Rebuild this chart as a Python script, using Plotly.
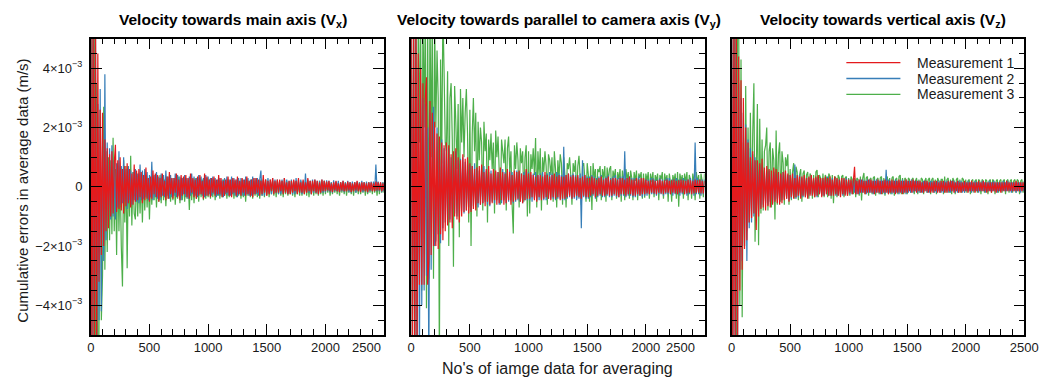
import numpy as np
import plotly.graph_objects as go

# Number of images used for each running average
sample_no = list(range(0, 2501, 10))

# Cumulative errors of the averaged velocity, in units of 1e-5 m/s
# (one row per 100 images, last value at 2500)

# --- V_x (main axis) ---
vx_m1 = [
    600, -600, 600, -600, 600, -600, 450, -320, 260, -230,
    250, -200, 160, -150, 130, -140, 110, -100, 120, -90,
    80, 142, -85, 90, -75, 100, -80, 60, -90, 70,
    -65, 80, -55, 60, -70, 45, -60, 75, -50, 55,
    -45, 60, -35, 50, -55, 40, -45, 65, -40, 30,
    -50, 35, -40, 55, -25, 45, -35, 40, -50, 30,
    -35, 45, -30, 20, -45, 35, -40, 50, -25, 30,
    -40, 30, -20, 45, -35, 25, -45, 40, -30, 35,
    -25, 40, -35, 30, -40, 45, -20, 30, -35, 25,
    -40, 35, -30, 40, -25, 20, -40, 45, -30, 35,
    -30, 25, -35, 30, -20, 35, -30, 25, -25, 40,
    -25, 30, -35, 20, -30, 25, -20, 35, -30, 25,
    -35, 30, -20, 25, -30, 35, -25, 20, -30, 30,
    -20, 25, -30, 35, -25, 20, -30, 25, -35, 30,
    -25, 30, -20, 25, -30, 20, -25, 40, -20, 25,
    -30, 20, -25, 25, -15, 30, -25, 20, -20, 25,
    -20, 25, -15, 20, -25, 30, -20, 15, -25, 20,
    -25, 20, -20, 25, -15, 20, -25, 30, -20, 15,
    -20, 25, -25, 15, -20, 30, -15, 20, -25, 20,
    -15, 25, -20, 20, -25, 15, -20, 25, -15, 20,
    -15, 18, -12, 20, -15, 12, -18, 15, -12, 20,
    -15, 12, -18, 15, -12, 20, -15, 12, -15, 18,
    -12, 15, -18, 12, -15, 15, -12, 20, -15, 12,
    -18, 15, -12, 15, -15, 12, -18, 15, -12, 15,
    -15, 12, -15, 18, -12, 15, -12, 15, -15, 12,
    -12]
vx_m2 = [
    600, -600, 600, -600, 550, -600, 280, -450, 330, -420,
    200, -250, 380, -180, 150, -120, 130, -110, 140, -100,
    90, -110, 80, -70, 120, -60, 70, -55, 100, -50,
    60, -75, 70, -45, 55, -60, 50, -45, 60, -50,
    45, -55, 75, -45, 55, -40, 60, -35, 50, -45,
    40, -35, 85, -45, 40, -35, 50, -40, 35, -45,
    45, -30, 40, -35, 55, -30, 35, -40, 40, -35,
    30, -30, 45, -35, 40, -30, 35, -45, 30, -25,
    40, -35, 30, -40, 35, -30, 45, -25, 35, -30,
    30, -35, 40, -25, 35, -30, 30, -35, 40, -30,
    35, -25, 30, -30, 35, -25, 30, -35, 25, -30,
    30, -30, 25, -35, 30, -25, 35, -30, 25, -30,
    35, -25, 30, -30, 25, -35, 30, -25, 30, -30,
    25, -30, 35, -25, 30, -30, 25, -30, 35, -25,
    30, -25, 30, -30, 25, 55, -30, 25, -30, 25,
    -25, 30, -20, 25, -25, 30, -20, 25, -20, 25,
    -25, 20, -25, 25, -20, 30, -20, 25, -25, 20,
    -20, 25, -25, 20, -25, 30, -20, 25, -20, 25,
    -25, 20, -20, 45, -20, 25, -20, 20, -25, 25,
    -20, 25, -20, 20, -25, 20, -20, 25, -20, 20,
    -18, 22, -15, 20, -18, 15, -20, 22, -15, 18,
    -15, 20, -18, 15, -15, 20, -18, 15, -15, 20,
    -18, 15, -20, 18, -15, 15, -20, 18, -15, 15,
    -15, 20, -18, 15, -15, 18, -20, 15, -15, 18,
    -15, 18, -15, 75, -15, 18, -15, 15, -18, 15,
    -15]
vx_m3 = [
    -600, 600, -600, 500, -600, 350, -600, -500, 260, -450,
    -300, 270, -280, 120, -220, 100, -180, 90, -160, 166,
    -150, 60, -230, 80, -150, 50, -200, -336, 90, -120,
    70, -275, 60, -100, 105, -130, 50, -90, -110, 45,
    -100, 45, -90, 40, -120, 35, -80, 40, -70, 30,
    -110, 30, -60, 35, -45, 25, -70, 30, -50, 40,
    -55, 30, -45, 25, -65, 35, -40, 30, -50, 20,
    -45, 30, -60, 25, -40, 35, -55, 30, -45, 25,
    -50, 30, -40, 25, -78, 30, -45, 25, -55, 30,
    -40, 25, -50, 30, -35, 25, -45, 20, -40, 30,
    -35, 25, -40, 20, -35, 25, -45, 20, -30, 25,
    -40, 20, -35, 25, -30, 20, -40, 25, -35, 20,
    -30, 25, -40, 20, -35, 25, -30, 20, -40, 25,
    -35, 20, -50, 25, -30, 20, -35, 25, -40, 20,
    -30, 25, -35, 20, -40, 25, -30, 20, -35, 25,
    -30, 20, -35, 15, -25, 20, -30, 15, -35, 20,
    -25, 15, -30, 20, -35, 15, -25, 20, -30, 15,
    -25, 20, -30, 15, -35, 20, -25, 15, -30, 20,
    -30, 15, -25, 20, -30, 15, -35, 20, -25, 15,
    -30, 20, -25, 15, -30, 20, -25, 15, -30, 20,
    -25, 15, -20, 12, -30, 15, -25, 12, -20, 15,
    -25, 12, -30, 15, -20, 12, -25, 15, -30, 12,
    -20, 15, -25, 12, -30, 15, -20, 12, -25, 15,
    -25, 12, -20, 15, -30, 12, -25, 15, -20, 12,
    -25, 15, -20, 12, -30, 15, -25, 12, -20, 15,
    -20]

# --- V_y (parallel to camera axis) ---
vy_m1 = [
    600, -600, 600, -600, 600, -600, 450, -330, 400, -330,
    350, -330, 300, 370, -330, -250, 290, -230, 250, -200,
    220, -200, 180, -210, 170, -160, 150, -180, 140, -150,
    150, -130, 140, -120, 110, -140, 120, -100, 130, -110,
    100, -120, 90, -100, 110, -85, 95, -80, 100, -90,
    80, -85, 70, -75, 60, -80, 65, -55, 70, -60,
    75, -55, 50, -65, 60, -50, 70, -60, 45, -55,
    60, -45, 55, -60, 50, -55, 65, -45, 50, -60,
    45, -55, 60, -45, 50, -60, 40, -50, 55, -45,
    50, -40, 55, -50, 45, -55, 40, -45, 60, -40,
    45, -40, 50, -35, 40, -45, 35, -50, 40, -35,
    40, -45, 35, -40, 50, -35, 40, -40, 35, -45,
    40, -35, 45, -40, 35, -35, 40, -45, 35, -40,
    35, -40, 40, -35, 45, -30, 35, -40, 40, -35,
    35, -30, 40, -35, 30, -40, 35, -30, 40, -35,
    30, -35, 30, -30, 35, -25, 30, -35, 25, -30,
    30, -25, 35, -30, 25, -30, 30, -25, 35, -30,
    25, -30, 30, -25, 30, -30, 25, -35, 30, -25,
    30, -25, 25, -30, 30, -25, 35, -25, 25, -30,
    25, -30, 30, -25, 25, -30, 30, -25, 30, -25,
    25, -22, 20, -25, 22, -20, 25, -22, 20, -25,
    22, -20, 25, -22, 20, -25, 22, -20, 25, -20,
    20, -25, 22, -20, 25, -22, 20, -25, 22, -20,
    25, -20, 22, -25, 20, -22, 25, -20, 22, -25,
    20, -22, 25, -20, 22, -20, 25, -22, 20, -22,
    20]
vy_m2 = [
    600, -600, 600, -600, 500, -600, 400, -600, 350, -400,
    300, -350, 280, -300, 200, -620, 250, -280, 220, 270,
    -200, -180, 200, -160, 150, -190, 160, -140, 130, -120,
    140, -120, 130, -110, 100, -120, 110, -90, 120, -100,
    90, -100, 95, -80, 100, -90, 85, -80, 75, -70,
    75, -80, 70, -65, 80, -60, 60, -70, 55, -60,
    65, -55, 70, -50, 55, -60, 50, -65, 55, -50,
    45, -55, 50, -45, 50, -60, 45, -55, 60, -45,
    50, -55, 45, -50, 55, -45, 50, -55, 45, -50,
    55, -45, 50, -50, 45, -55, 50, -45, 55, -45,
    50, -45, 40, -50, 45, -40, 50, -45, 40, -45,
    45, -40, 50, -45, 40, -45, 45, -40, 50, -40,
    45, -40, 40, -45, 50, -40, 45, -40, 40, -45,
    135, -45, 40, -40, 45, -35, 40, -40, 45, -40,
    40, -45, 35, -40, 45, -140, 90, -35, 40, -40,
    35, -40, 35, -35, 40, -30, 35, -40, 30, -35,
    35, -30, 40, -35, 30, -35, 35, -30, 40, -35,
    30, -35, 35, -30, 40, -35, 30, -35, 35, -30,
    35, -30, 120, -35, 30, -30, 35, -30, 30, -35,
    30, -35, 30, -30, 35, -30, 30, -35, 30, -30,
    25, -30, 25, -25, 30, -25, 30, -25, 25, -30,
    25, -25, 30, -25, 25, -30, 25, -25, 30, -25,
    30, -25, 25, -30, 25, -25, 30, -25, 25, -30,
    25, -25, 30, -25, 25, -30, 25, -25, 30, -25,
    25, -30, 150, -25, 30, -25, 25, -30, 25, -25,
    25]
vy_m3 = [
    600, -600, 600, -600, 600, -500, 600, 150, 600, -350,
    600, 200, 600, -410, 600, -310, 600, 100, 600, -310,
    550, 200, 460, 300, -600, 430, 80, 600, 390, 150,
    120, 390, -200, 300, 350, 160, -270, 340, 220, 60,
    280, -170, 330, 150, 300, 100, 250, 330, 180, -120,
    260, -200, 180, 300, 120, 250, -100, 220, 90, 200,
    150, -80, 220, 120, 180, -120, 160, 90, 180, 60,
    150, -90, 190, 100, 170, 80, -60, 160, 120, 80,
    160, -80, 130, 170, 50, 120, -60, -157, 140, 60,
    150, 90, -70, 130, 80, 120, -50, 100, 140, -100,
    120, -90, 110, 60, 130, 40, 165, -70, 120, 40,
    130, -80, 100, 50, 120, 70, -60, 110, 90, 40,
    100, -50, 120, 60, -70, 90, 30, 110, 80, -60,
    100, 40, -70, 80, 60, 100, 40, -60, 80, 50,
    90, -40, 70, 105, 30, -60, 70, 80, 30, -50,
    80, 40, -50, 70, -78, 80, 30, 60, -50, 60,
    50, 70, -45, 60, 30, 70, -50, 65, 20, 60,
    70, -45, 55, 30, 60, -40, 50, 25, 60, -50,
    55, 30, -45, 60, 25, 50, -40, 55, 30, -45,
    50, 20, 55, -45, 45, 30, 50, -40, 45, -37,
    45, 20, 50, -40, 45, 15, 50, -35, 40, 20,
    45, -45, 40, 25, 50, -40, 45, 20, 40, -50,
    45, 15, -50, 40, 20, 45, -40, 50, -67, 45,
    20, 40, -40, 45, 15, 50, -45, 40, 25, -40,
    45, 20, -45, 50, 15, 40, -40, 45, 20, -35,
    45]

# --- V_z (vertical axis) ---
vz_m1 = [
    600, -600, 600, -600, 600, -600, 440, -350, 360, -280,
    300, -210, 200, -180, 150, -120, 100, -105, 120, -90,
    90, -146, 90, -100, 80, -75, 95, -70, 65, -80,
    70, -65, 60, -70, 55, -60, 65, -50, 60, -55,
    50, -60, 45, -55, 50, -45, 55, -40, 45, -50,
    40, -35, 45, -40, 30, -35, 40, -30, 35, -40,
    35, -30, 40, -35, 30, -40, 35, -30, 40, -30,
    30, -35, 35, -30, 40, -25, 30, -35, 30, -30,
    35, -25, 30, -30, 35, -30, 25, -30, 35, -25,
    30, -30, 25, -35, 30, -25, 30, -30, 25, -30,
    25, -20, 25, -25, 20, 68, -25, 20, -25, 25,
    -20, 25, -20, 20, -25, 20, -20, 25, -20, 25,
    -20, 20, -25, 20, -20, 25, -20, 20, -25, 20,
    -20, 25, -20, 20, -25, 20, -20, 25, -20, 20,
    -25, 20, -20, 25, -20, 20, -25, 20, -20, 25,
    -20, 20, -15, 20, -20, 25, -15, 20, -20, 20,
    -15, 20, -20, 15, -20, 20, -15, 20, -20, 15,
    -20, 15, -20, 20, -15, 20, -20, 15, -20, 20,
    -15, 20, -20, 15, -20, 20, -15, 20, -15, 20,
    -20, 15, -15, 20, -20, 15, -20, 15, -15, 20,
    -15, 15, -20, 15, -15, 20, -15, 15, -20, 15,
    -15, 20, -15, 15, -15, 20, -15, 15, -20, 15,
    -15, 15, -20, 15, -15, 15, -20, 15, -15, 15,
    -20, 15, -15, 15, -15, 20, -15, 15, -15, 15,
    -15, 15, -15, 20, -15, 15, -15, 15, -15, 15,
    -12]
vz_m2 = [
    600, -600, 600, -600, 600, -620, 350, -280, 300, -250,
    250, -200, 210, -250, 160, -140, 130, -120, 110, -100,
    100, -90, 85, -80, 75, -70, 65, -60, 55, -55,
    50, -60, 55, -50, 45, -55, 50, -45, 45, -40,
    45, -50, 40, -45, 50, -40, 45, -40, 40, -45,
    40, -40, 30, -35, 75, -40, 35, -35, 40, -35,
    30, -35, 35, -30, 30, -35, 30, -25, 35, -30,
    25, -30, 30, -35, 30, -25, 30, -30, 25, -30,
    30, -25, 35, -30, 25, -30, 30, -25, 30, -30,
    25, -30, 25, -25, 30, -30, 25, -25, 30, -25,
    25, -25, 20, -25, 25, -20, 25, -25, 20, -25,
    25, -20, 25, -20, 20, -25, 25, -20, 25, -20,
    20, -25, 25, -20, 25, -20, 20, -25, 25, -20,
    20, -25, 58, -20, 25, -20, 20, -25, 20, -20,
    25, -20, 20, -25, 20, -20, 25, -20, 20, -25,
    20, -20, 20, -20, 25, -20, 20, -15, 20, -20,
    20, -20, 15, -20, 20, -15, 20, -20, 15, -20,
    20, -15, 20, -20, 15, -20, 20, -15, 20, -20,
    15, -20, 20, -15, 20, -20, 15, -20, 20, -15,
    20, -20, 15, -20, 20, -15, 20, -20, 15, -20,
    15, -15, 20, -15, 15, -20, 15, -15, 20, -15,
    15, -20, 15, -15, 20, -15, 15, -20, 15, -15,
    20, -15, 15, -15, 20, -15, 15, -20, 15, -15,
    15, -15, 20, -15, 15, -15, 20, -15, 15, -20,
    15, -15, 15, -20, 15, -15, 15, -20, 15, -15,
    15]
vz_m3 = [
    600, -600, 600, 600, -600, 600, 600, -400, 430, -440,
    150, -200, 340, -150, 200, -120, 250, -100, 180, 350,
    -185, 150, 280, -197, 230, -90, 160, -80, 120, 140,
    200, -80, 120, 150, -70, 130, 90, -110, 190, -60,
    110, 150, -50, 120, 80, -60, 100, 70, 110, -60,
    60, -45, 50, 80, -40, 68, 50, -45, 40, 60,
    -50, 45, 55, -35, 40, 50, -40, 45, 35, -40,
    40, -35, 50, 57, -35, 40, 30, -30, 45, -35,
    40, 30, -35, 45, 35, -40, 40, -55, 35, 30,
    -35, 40, 30, -30, 35, 40, -35, 30, 35, -30,
    30, -30, 35, 25, -25, 30, -35, 30, 25, -30,
    35, -46, 30, 47, -25, 30, 35, -30, 25, 30,
    -25, 30, 35, -30, 25, 30, -25, 30, 35, -25,
    30, -30, 25, 35, -25, 30, -25, 30, 35, -30,
    25, 30, -25, 35, 40, -25, 30, -25, 30, 25,
    -25, 30, 25, -20, 25, 30, -25, 20, 30, -25,
    25, -20, 30, 25, -25, 20, 30, -20, 25, 30,
    -25, 25, 30, -20, 25, -25, 30, 20, -20, 25,
    25, -25, 35, -20, 25, 30, -20, 25, -25, 30,
    20, -25, 25, 30, -20, 25, -20, 30, 25, -20,
    25, -20, 20, 25, -25, 20, 25, -20, 20, 25,
    -20, 25, 20, -25, 25, 20, -20, 25, 20, -25,
    20, 25, -20, 25, 20, -25, 20, 25, -20, 20,
    25, -20, 20, 25, -25, 20, 25, -20, 20, 25,
    -20, 20, 25, -20, 25, 20, -25, 20, 25, -20,
    20]

panel_titles = ["Velocity towards main axis (V<sub>x</sub>)",
                "Velocity towards parallel to camera axis (V<sub>y</sub>)",
                "Velocity towards vertical axis (V<sub>z</sub>)"]
series_names = ["Measurement 1", "Measurement 2", "Measurement 3"]
series_colors = ["#E41A1C", "#377EB8", "#4DAF4A"]
x_ticks = [0, 500, 1000, 1500, 2000, 2500]
y_ticks = [-4e-3, -2e-3, 0, 2e-3, 4e-3]
y_tick_text = ["\u22124\u00d710<sup>\u22123</sup>", "\u22122\u00d710<sup>\u22123</sup>", "0",
               "2\u00d710<sup>\u22123</sup>", "4\u00d710<sup>\u22123</sup>"]

panels = [(vx_m1, vx_m2, vx_m3), (vy_m1, vy_m2, vy_m3), (vz_m1, vz_m2, vz_m3)]
for trio in panels:
    for s in trio:
        assert len(s) == len(sample_no), len(s)

W, H = 1053, 378
x_domains = [(88.3 / W, 386.7 / W), (414.3 / W, 712.7 / W), (740.3 / W, 1038.0 / W)]
y_domain = (1 - 335.0 / H, 1 - 38.7 / H)
FONT = "Liberation Sans, Arial, Helvetica, sans-serif"
TXT = "#1a1a1a"

fig = go.Figure()
for p, trio in enumerate(panels):
    ax = "" if p == 0 else str(p + 1)
    # Measurement 3 first so that Measurement 1 is drawn on top
    for k in (2, 1, 0):
        fig.add_trace(go.Scatter(
            x=sample_no, y=np.array(trio[k]) * 1e-5, mode="lines",
            name=series_names[k], showlegend=False,
            line=dict(color=series_colors[k], width=1.2),
            xaxis="x" + ax, yaxis="y" + ax, hoverinfo="skip"))

frame = dict(showline=True, linecolor="black", linewidth=1.5, mirror="ticks",
             ticks="inside", ticklen=11, tickwidth=1.3, tickcolor="black",
             showgrid=False, zeroline=False,
             tickfont=dict(family=FONT, size=13, color=TXT))

layout = dict(width=W, height=H, margin=dict(l=0, r=0, t=0, b=0),
              paper_bgcolor="white", plot_bgcolor="white",
              font=dict(family=FONT, color=TXT), showlegend=False)
for p in range(3):
    ax = "" if p == 0 else str(p + 1)
    ttext = [str(v) for v in x_ticks]
    if p < 2:
        ttext[-1] = ""
    layout["xaxis" + ax] = dict(frame, domain=x_domains[p], range=[0, 2500],
                                 tickmode="array", tickvals=x_ticks, ticktext=ttext,
                                 anchor="y" + ax,
                                 minor=dict(ticks="inside", ticklen=6, tickwidth=1,
                                            tickcolor="black", tickmode="linear",
                                            tick0=0, dtick=100, showgrid=False))
    layout["yaxis" + ax] = dict(frame, domain=y_domain, range=[-5e-3, 5e-3],
                                 tickmode="array", tickvals=y_ticks, ticktext=y_tick_text,
                                 showticklabels=(p == 0), anchor="x" + ax,
                                 ticklabelstandoff=4,
                                 minor=dict(ticks="inside", ticklen=6, tickwidth=1,
                                            tickcolor="black", tickmode="linear",
                                            tick0=0, dtick=5e-4, showgrid=False))
fig.update_layout(**layout)

annotations = []
title_centers = [233, 564.5, 894]
for p in range(3):
    annotations.append(dict(text="<b>" + panel_titles[p] + "</b>", xref="paper", yref="paper",
                            x=title_centers[p] / W, y=1 - 20.7 / H, showarrow=False,
                            xanchor="center", yanchor="middle",
                            font=dict(family=FONT, size=15.5, color="black")))
# "2500" labels of the first two panels sit just left of their tick
for p, shift in ((0, -1), (1, -8)):
    ax = "" if p == 0 else str(p + 1)
    annotations.append(dict(text="2500", xref="x" + ax, yref="paper", x=2500,
                            y=y_domain[0], yshift=-12, xshift=shift, showarrow=False,
                            xanchor="right", yanchor="middle",
                            font=dict(family=FONT, size=13, color=TXT)))
annotations.append(dict(text="Cumulative errors in average data (m/s)", xref="paper", yref="paper",
                        x=18 / W, y=1 - 191 / H, textangle=-90, showarrow=False,
                        xanchor="center", yanchor="middle",
                        font=dict(family=FONT, size=15, color=TXT)))
annotations.append(dict(text="No's of iamge data for averaging", xref="paper", yref="paper",
                        x=563 / W, y=1 - 368 / H, showarrow=False,
                        xanchor="center", yanchor="middle",
                        font=dict(family=FONT, size=16, color=TXT)))

# Legend: sample line and label for each measurement, top right of the V_z panel
legend_rows = [62.7, 78.5, 94.3]
shapes = []
for k in range(3):
    yk = 1 - legend_rows[k] / H
    shapes.append(dict(type="line", xref="paper", yref="paper",
                       x0=857 / W, x1=912 / W, y0=yk, y1=yk,
                       line=dict(color=series_colors[k], width=1.3)))
    annotations.append(dict(text=series_names[k], xref="paper", yref="paper",
                            x=927 / W, y=yk, showarrow=False,
                            xanchor="left", yanchor="middle",
                            font=dict(family=FONT, size=14, color=TXT)))
fig.update_layout(annotations=annotations, shapes=shapes)

fig.write_html("out.html")
